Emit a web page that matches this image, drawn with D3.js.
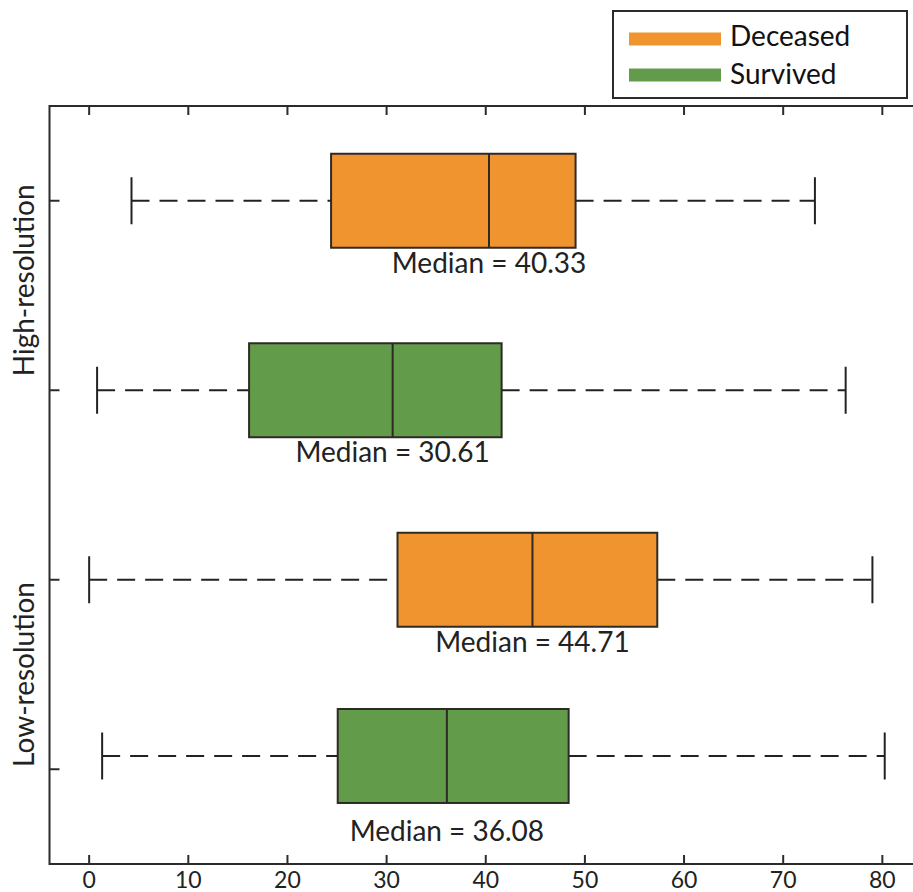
<!DOCTYPE html>
<html><head><meta charset="utf-8">
<script src="https://cdn.jsdelivr.net/npm/d3@7"></script>
<style>body{margin:0;background:#fff;} svg{display:block;font-family:Lato,"Noto Sans",sans-serif;}</style>
</head><body><svg id="c" width="913" height="892"></svg>
<script>
const groupLabels = ["High-resolution", "Low-resolution"];
const groupLabelPos = [1.42, 3.5];
const series = ["Deceased", "Survived", "Deceased", "Survived"];
const whiskerLow = [4.27, 0.8, 0.0, 1.31];
const q1 = [24.4, 16.13, 31.1, 25.07];
const medians = [40.33, 30.61, 44.71, 36.08];
const q3 = [49.06, 41.6, 57.3, 48.36];
const whiskerHigh = [73.2, 76.3, 79.0, 80.24];
const boxPosition = [1, 2, 3, 3.93];
const tickPosition = [1, 2, 3, 4];
const xTicks = [0, 10, 20, 30, 40, 50, 60, 70, 80];
const legendItems = ["Deceased", "Survived"];
const colors = {Deceased: "#f0942f", Survived: "#629b4a"};

(function () {
const svg = d3.select("#c");
const x = d3.scaleLinear().domain([-4, 84]).range([49.5, 922]);
const y = d3.scaleLinear().domain([0.5, 4.5]).range([106, 864]);
const ink = "#2b2b2b";
const boxHalf = 0.248, capHalf = 0.124;

const pLeft = x(-4), pRight = x(84), pTop = y(0.5), pBottom = y(4.5);
svg.append("rect").attr("x", pLeft).attr("y", pTop).attr("width", pRight - pLeft).attr("height", pBottom - pTop)
  .attr("fill", "none").attr("stroke", ink).attr("stroke-width", 2);

const xt = svg.append("g");
xTicks.forEach(t => {
  xt.append("line").attr("x1", x(t)).attr("x2", x(t)).attr("y1", pBottom).attr("y2", pBottom - 9).attr("stroke", ink).attr("stroke-width", 2);
  xt.append("line").attr("x1", x(t)).attr("x2", x(t)).attr("y1", pTop).attr("y2", pTop + 9).attr("stroke", ink).attr("stroke-width", 2);
  xt.append("text").attr("x", x(t)).attr("y", pBottom + 24).attr("text-anchor", "middle")
    .attr("font-size", 23).attr("fill", "#222").text(t);
});
tickPosition.forEach(p => {
  svg.append("line").attr("x1", pLeft).attr("x2", pLeft + 10).attr("y1", y(p)).attr("y2", y(p)).attr("stroke", ink).attr("stroke-width", 2);
});
groupLabels.forEach((g, i) => {
  svg.append("text").attr("transform", `translate(34,${y(groupLabelPos[i])}) rotate(-90)`)
    .attr("text-anchor", "middle").attr("font-size", 28).attr("fill", "#222").text(g);
});

series.forEach((s, i) => {
  const cy = y(boxPosition[i]);
  const g = svg.append("g");
  const h = y(boxPosition[i] + boxHalf) - y(boxPosition[i] - boxHalf);
  const ch = y(boxPosition[i] + capHalf) - y(boxPosition[i] - capHalf);
  g.append("line").attr("x1", x(whiskerLow[i])).attr("x2", x(q1[i])).attr("y1", cy).attr("y2", cy)
    .attr("stroke", "#222").attr("stroke-width", 2).attr("stroke-dasharray", "18,10");
  g.append("line").attr("x1", x(q3[i])).attr("x2", x(whiskerHigh[i])).attr("y1", cy).attr("y2", cy)
    .attr("stroke", "#222").attr("stroke-width", 2).attr("stroke-dasharray", "18,10");
  [whiskerLow[i], whiskerHigh[i]].forEach(v => {
    g.append("line").attr("x1", x(v)).attr("x2", x(v)).attr("y1", cy - ch / 2).attr("y2", cy + ch / 2)
      .attr("stroke", "#222").attr("stroke-width", 2);
  });
  g.append("rect").attr("x", x(q1[i])).attr("y", cy - h / 2).attr("width", x(q3[i]) - x(q1[i])).attr("height", h)
    .attr("fill", colors[s]).attr("stroke", "#2e2a26").attr("stroke-width", 2);
  g.append("line").attr("x1", x(medians[i])).attr("x2", x(medians[i])).attr("y1", cy - h / 2).attr("y2", cy + h / 2)
    .attr("stroke", "#2e2a26").attr("stroke-width", 2);
  g.append("text").attr("x", x(medians[i])).attr("y", y(tickPosition[i]) + 72).attr("text-anchor", "middle")
    .attr("font-size", 28).attr("fill", "#222").text("Median = " + medians[i].toFixed(2));
});

const lg = svg.append("g");
lg.append("rect").attr("x", 613).attr("y", 11).attr("width", 294).attr("height", 87)
  .attr("fill", "#fff").attr("stroke", ink).attr("stroke-width", 2);
legendItems.forEach((s, i) => {
  const cy = 39 + i * 36;
  lg.append("rect").attr("x", 629).attr("y", cy - 6.5).attr("width", 92).attr("height", 13).attr("fill", colors[s]);
  lg.append("text").attr("x", 730).attr("y", 46 + i * 38).attr("font-size", 28).attr("fill", "#111").text(s);
});
})();
</script></body></html>
